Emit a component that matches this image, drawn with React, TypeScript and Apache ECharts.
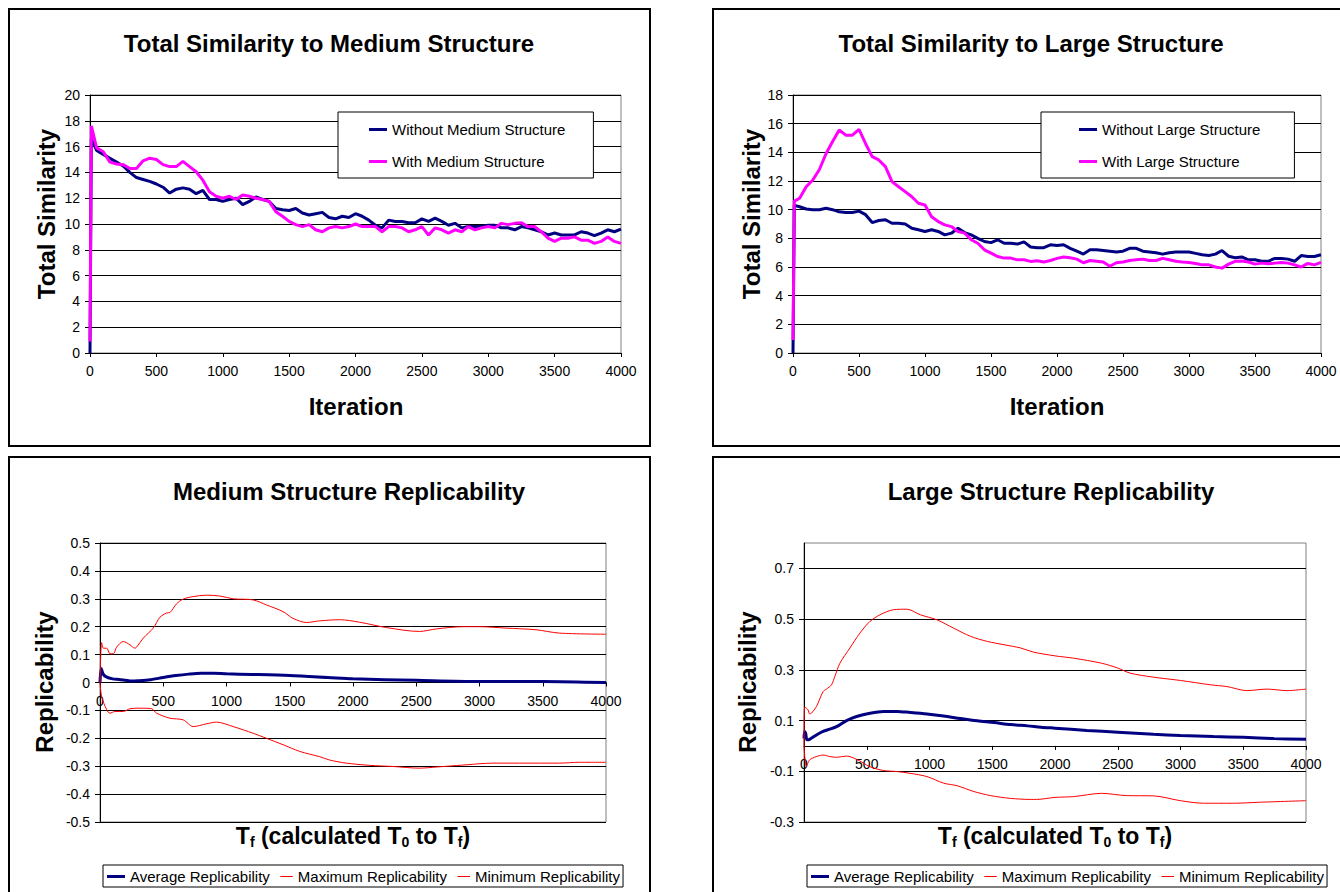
import { useEffect, useRef } from 'react';
import * as echarts from 'echarts';

const FONT = '"Liberation Sans", Arial, Helvetica, sans-serif';

// ---------- Data ----------
const iterTop = [0, 10, 50, 100, 150, 200, 250, 300, 350, 400, 450, 500, 550, 600, 650, 700, 750, 800, 850, 900, 950, 1000, 1050, 1100, 1150, 1200, 1250, 1300, 1350, 1400, 1450, 1500, 1550, 1600, 1650, 1700, 1750, 1800, 1850, 1900, 1950, 2000, 2050, 2100, 2150, 2200, 2250, 2300, 2350, 2400, 2450, 2500, 2550, 2600, 2650, 2700, 2750, 2800, 2850, 2900, 2950, 3000, 3050, 3100, 3150, 3200, 3250, 3300, 3350, 3400, 3450, 3500, 3550, 3600, 3650, 3700, 3750, 3800, 3850, 3900, 3950, 4000];

const withoutMedium = [0, 16.6, 15.7, 15.4, 15.1, 14.8, 14.5, 14.0, 13.6, 13.45, 13.3, 13.1, 12.85, 12.4, 12.7, 12.8, 12.7, 12.35, 12.6, 11.9, 11.9, 11.75, 11.9, 12.0, 11.5, 11.75, 12.1, 11.9, 11.75, 11.2, 11.1, 11.05, 11.2, 10.85, 10.7, 10.8, 10.9, 10.5, 10.4, 10.6, 10.5, 10.8, 10.6, 10.3, 9.9, 9.7, 10.3, 10.2, 10.2, 10.1, 10.1, 10.4, 10.2, 10.45, 10.2, 9.9, 10.05, 9.7, 9.8, 9.8, 9.8, 9.9, 9.9, 9.7, 9.7, 9.55, 9.8, 9.7, 9.55, 9.4, 9.15, 9.3, 9.15, 9.15, 9.15, 9.4, 9.3, 9.1, 9.3, 9.55, 9.4, 9.6];
const withMedium = [0.9, 17.6, 15.9, 15.6, 14.8, 14.65, 14.6, 14.3, 14.3, 14.9, 15.1, 15.0, 14.6, 14.45, 14.45, 14.85, 14.45, 14.05, 13.4, 12.5, 12.15, 12.0, 12.15, 11.9, 12.25, 12.15, 12.0, 11.9, 11.75, 10.95, 10.6, 10.2, 9.95, 9.8, 9.95, 9.55, 9.4, 9.7, 9.8, 9.7, 9.8, 10.0, 9.8, 9.8, 9.8, 9.4, 9.8, 9.8, 9.7, 9.4, 9.55, 9.8, 9.15, 9.7, 9.55, 9.3, 9.55, 9.4, 9.8, 9.55, 9.7, 9.8, 9.7, 10.05, 9.95, 10.05, 10.1, 9.8, 9.8, 9.4, 8.9, 8.65, 8.9, 8.9, 9.0, 8.75, 8.75, 8.5, 8.65, 9.0, 8.65, 8.5];
const withoutLarge = [0, 10.3, 10.2, 10.05, 10.0, 10.0, 10.1, 10.0, 9.85, 9.8, 9.8, 9.9, 9.65, 9.1, 9.24, 9.3, 9.05, 9.05, 9.0, 8.7, 8.6, 8.48, 8.6, 8.48, 8.24, 8.36, 8.7, 8.4, 8.24, 8.0, 7.78, 7.7, 7.9, 7.66, 7.66, 7.6, 7.75, 7.4, 7.35, 7.35, 7.55, 7.5, 7.55, 7.3, 7.1, 6.9, 7.2, 7.2, 7.15, 7.1, 7.05, 7.1, 7.3, 7.3, 7.1, 7.05, 7.0, 6.9, 7.0, 7.05, 7.05, 7.05, 6.95, 6.85, 6.8, 6.9, 7.15, 6.75, 6.65, 6.7, 6.5, 6.5, 6.4, 6.4, 6.6, 6.6, 6.55, 6.4, 6.8, 6.73, 6.73, 6.85];
const withLarge = [0.9, 10.6, 10.8, 11.6, 12.07, 12.8, 13.9, 14.75, 15.56, 15.2, 15.2, 15.6, 14.6, 13.7, 13.47, 13.0, 11.96, 11.6, 11.26, 10.9, 10.45, 10.33, 9.5, 9.17, 8.94, 8.82, 8.48, 8.36, 7.9, 7.66, 7.2, 6.97, 6.73, 6.62, 6.62, 6.5, 6.5, 6.39, 6.43, 6.35, 6.45, 6.6, 6.7, 6.65, 6.55, 6.3, 6.45, 6.4, 6.35, 6.05, 6.3, 6.35, 6.45, 6.5, 6.55, 6.45, 6.45, 6.6, 6.5, 6.4, 6.35, 6.32, 6.25, 6.15, 6.15, 6.0, 5.92, 6.2, 6.4, 6.42, 6.35, 6.2, 6.27, 6.22, 6.27, 6.32, 6.27, 6.15, 6.0, 6.25, 6.15, 6.32];

// [Tf, replicability]
const mediumAvg = [[0, 0], [10, 0.05], [25, 0.03], [50, 0.02], [100, 0.013], [150, 0.011], [200, 0.008], [250, 0.005], [300, 0.006], [400, 0.01], [500, 0.018], [600, 0.025], [700, 0.03], [800, 0.033], [900, 0.033], [1000, 0.031], [1200, 0.029], [1500, 0.025], [1800, 0.018], [2000, 0.013], [2500, 0.008], [3000, 0.004], [3500, 0.004], [4000, 0.0]];
const mediumMax = [[0, 0], [13, 0.143], [26, 0.123], [53, 0.123], [79, 0.103], [105, 0.103], [132, 0.127], [184, 0.147], [237, 0.135], [276, 0.123], [290, 0.127], [342, 0.159], [421, 0.195], [474, 0.234], [526, 0.249], [553, 0.251], [605, 0.282], [658, 0.299], [737, 0.308], [842, 0.313], [947, 0.31], [1053, 0.3], [1211, 0.296], [1316, 0.278], [1447, 0.254], [1526, 0.23], [1632, 0.215], [1737, 0.221], [1895, 0.225], [2053, 0.216], [2263, 0.197], [2526, 0.183], [2658, 0.192], [2868, 0.2], [3000, 0.2], [3211, 0.195], [3447, 0.189], [3632, 0.177], [4000, 0.173]];
const mediumMin = [[0, 0], [13, -0.05], [53, -0.098], [79, -0.11], [118, -0.104], [184, -0.104], [237, -0.094], [316, -0.092], [408, -0.094], [447, -0.11], [553, -0.128], [658, -0.134], [737, -0.158], [842, -0.148], [921, -0.142], [1053, -0.158], [1211, -0.182], [1316, -0.2], [1447, -0.223], [1579, -0.247], [1737, -0.266], [1816, -0.278], [1947, -0.289], [2132, -0.297], [2316, -0.301], [2526, -0.307], [2658, -0.303], [2868, -0.296], [3105, -0.289], [3316, -0.289], [3632, -0.289], [3789, -0.286], [4000, -0.286]];

const largeAvg = [[0, 0.03], [5, 0.057], [13, 0.05], [24, 0.024], [45, 0.026], [99, 0.043], [152, 0.057], [206, 0.066], [259, 0.076], [339, 0.1], [419, 0.116], [526, 0.129], [633, 0.136], [740, 0.136], [846, 0.132], [980, 0.126], [1113, 0.118], [1247, 0.108], [1380, 0.099], [1514, 0.092], [1647, 0.084], [1781, 0.079], [1888, 0.074], [2000, 0.07], [2253, 0.061], [2500, 0.054], [2785, 0.046], [3000, 0.041], [3263, 0.037], [3500, 0.034], [3745, 0.029], [4000, 0.026]];
const largeMax = [[0, 0], [5, 0.153], [19, 0.149], [32, 0.142], [45, 0.126], [59, 0.129], [99, 0.155], [152, 0.214], [179, 0.224], [219, 0.241], [246, 0.274], [286, 0.326], [366, 0.386], [446, 0.445], [526, 0.491], [606, 0.517], [713, 0.537], [820, 0.539], [927, 0.517], [1060, 0.497], [1193, 0.464], [1327, 0.432], [1460, 0.412], [1594, 0.399], [1727, 0.386], [1827, 0.37], [2000, 0.355], [2146, 0.346], [2372, 0.326], [2500, 0.307], [2598, 0.287], [2785, 0.271], [3000, 0.258], [3237, 0.241], [3370, 0.234], [3529, 0.218], [3689, 0.224], [3849, 0.218], [4000, 0.224]];
const largeMin = [[0, 0], [19, -0.081], [45, -0.055], [99, -0.042], [152, -0.036], [206, -0.042], [259, -0.045], [339, -0.04], [419, -0.053], [526, -0.082], [633, -0.097], [740, -0.101], [846, -0.108], [980, -0.121], [1113, -0.147], [1220, -0.157], [1354, -0.18], [1487, -0.196], [1647, -0.207], [1807, -0.211], [1854, -0.211], [2000, -0.203], [2146, -0.2], [2372, -0.187], [2572, -0.196], [2785, -0.197], [3000, -0.216], [3184, -0.226], [3423, -0.226], [3636, -0.222], [4000, -0.216]];

const largeRepTicks = [-0.3, -0.1, 0.1, 0.3, 0.5, 0.7];

const titles = ['Total Similarity to Medium Structure', 'Total Similarity to Large Structure', 'Medium Structure Replicability', 'Large Structure Replicability'];
const topLegendMedium = ['Without Medium Structure', 'With Medium Structure'];
const topLegendLarge = ['Without Large Structure', 'With Large Structure'];
const repLegend = ['Average Replicability', 'Maximum Replicability', 'Minimum Replicability'];

const NAVY = '#000080';
const MAGENTA = '#FF00FF';
const RED = '#FF0000';

// legend icons: tiny corner specks fix the 18x12 box, band is the line sample
const ICON_THICK = 'path://M0,0h0.01v0.01h-0.01zM0,4.5h18v3h-18zM17.99,11.99h0.01v0.01h-0.01z';
const ICON_THIN = 'path://M0,0h0.01v0.01h-0.01zM5.5,5.5h12.5v1h-12.5zM17.99,11.99h0.01v0.01h-0.01z';

const pairs = (xs: number[], ys: number[]) => xs.map((x, i) => [x, ys[i]]);

const GRID_H_TOP = 258;
const GRID_H_BOT = 279;

function xAxisOpt(gridIndex: number, offset = 0) {
  return {
    type: 'value',
    gridIndex,
    min: 0,
    max: 4000,
    interval: 500,
    offset,
    axisLine: { show: true, onZero: false, lineStyle: { color: '#000', width: 1 } },
    axisTick: { show: true, length: 4, lineStyle: { color: '#000' } },
    axisLabel: { fontSize: 14, color: '#000', fontFamily: FONT, margin: 11, formatter: (v: number) => String(v) },
    splitLine: { show: false },
  };
}

function yAxisOpt(gridIndex: number, min: number, max: number, interval: number, extra: any = {}) {
  return {
    type: 'value',
    gridIndex,
    min,
    max,
    interval,
    axisLine: { show: true, onZero: false, lineStyle: { color: '#000', width: 1 } },
    axisTick: { show: true, length: 5, lineStyle: { color: '#000' }, ...(extra.axisTick || {}) },
    axisLabel: { fontSize: 14, color: '#000', fontFamily: FONT, margin: 10, ...(extra.axisLabel || {}) },
    splitLine: { show: true, lineStyle: { color: '#000', width: 1 } },
  };
}

// offset that puts the x axis on the y = 0 line of a grid
const zeroOffset = (min: number, max: number, h: number) => -h * (0 - min) / (max - min);

function lineSeries(name: string, data: any[], idx: number, color: string, width: number, smooth: any = false) {
  return {
    type: 'line',
    name,
    data,
    xAxisIndex: idx,
    yAxisIndex: idx,
    symbol: 'none',
    showSymbol: false,
    smooth,
    color,
    itemStyle: { color },
    lineStyle: { color, width },
  };
}

function boldText(x: number, y: number, text: string, size: number, rotation = 0) {
  return {
    type: 'text',
    x,
    y,
    rotation,
    silent: true,
    style: {
      text,
      fill: '#000',
      font: `bold ${size}px ${FONT}`,
      align: 'center',
      verticalAlign: 'middle',
      textAlign: 'center',
      textVerticalAlign: 'middle',
    },
  };
}

function tfText(x: number, y: number) {
  return {
    type: 'text',
    x,
    y,
    silent: true,
    style: {
      text: '{b|T}{s|f}{b| (calculated T}{s|0}{b| to T}{s|f}{b|)}',
      fill: '#000',
      font: `bold 23px ${FONT}`,
      align: 'center',
      verticalAlign: 'middle',
      textAlign: 'center',
      textVerticalAlign: 'middle',
      rich: {
        b: { font: `bold 23px ${FONT}`, fill: '#000' },
        s: { font: `bold 14px ${FONT}`, fill: '#000', padding: [12, 0, 0, 0] },
      },
    },
  };
}

function panelRect(x: number, y: number, w: number, h: number) {
  return {
    type: 'rect',
    silent: true,
    shape: { x, y, width: w, height: h },
    style: { fill: 'none', stroke: '#000', lineWidth: 2 },
  };
}

const legendBase = {
  selectedMode: false,
  borderColor: '#000',
  borderWidth: 1,
  backgroundColor: '#fff',
  itemStyle: { borderWidth: 0 },
  textStyle: { color: '#000', fontFamily: FONT, fontSize: 15 },
};

const repLegendData = [
  { name: repLegend[0], icon: ICON_THICK },
  { name: repLegend[1], icon: ICON_THIN },
  { name: repLegend[2], icon: ICON_THIN },
];

export default function App() {
  const ref = useRef<HTMLDivElement>(null);

  useEffect(() => {
    if (!ref.current) return;
    const chart = echarts.init(ref.current, undefined, { renderer: 'svg' });

    const option: any = {
      animation: false,
      backgroundColor: '#fff',
      grid: [
        { left: 90, top: 95, width: 531, height: GRID_H_TOP, show: true, borderColor: '#808080', borderWidth: 1 },
        { left: 793, top: 95, width: 528, height: GRID_H_TOP, show: true, borderColor: '#808080', borderWidth: 1 },
        { left: 100, top: 543, width: 506, height: GRID_H_BOT, show: true, borderColor: '#808080', borderWidth: 1 },
        { left: 804, top: 543, width: 502, height: GRID_H_BOT, show: true, borderColor: '#808080', borderWidth: 1 },
      ],
      xAxis: [
        xAxisOpt(0),
        xAxisOpt(1),
        xAxisOpt(2, zeroOffset(-0.5, 0.5, GRID_H_BOT)),
        xAxisOpt(3, zeroOffset(-0.3, 0.8, GRID_H_BOT)),
      ],
      yAxis: [
        yAxisOpt(0, 0, 20, 2),
        yAxisOpt(1, 0, 18, 2),
        yAxisOpt(2, -0.5, 0.5, 0.1),
        yAxisOpt(3, -0.3, 0.8, 0.1, {
          axisTick: { customValues: largeRepTicks },
          axisLabel: { customValues: largeRepTicks },
        }),
      ],
      legend: [
        {
          ...legendBase,
          orient: 'vertical',
          left: 338,
          top: 112,
          padding: [10, 28, 9, 31],
          itemGap: 17,
          itemWidth: 18,
          itemHeight: 3,
          icon: 'rect',
          data: topLegendMedium,
        },
        {
          ...legendBase,
          orient: 'vertical',
          left: 1041,
          top: 112,
          padding: [10, 34, 9, 38],
          itemGap: 17,
          itemWidth: 18,
          itemHeight: 3,
          icon: 'rect',
          data: topLegendLarge,
        },
        {
          ...legendBase,
          orient: 'horizontal',
          left: 103,
          top: 865,
          padding: [4, 3, 3, 4],
          itemGap: 5,
          itemWidth: 18,
          itemHeight: 12,
          data: repLegendData,
        },
        {
          ...legendBase,
          orient: 'horizontal',
          left: 807,
          top: 865,
          padding: [4, 3, 3, 4],
          itemGap: 5,
          itemWidth: 18,
          itemHeight: 12,
          data: repLegendData,
        },
      ],
      series: [
        lineSeries(topLegendMedium[0], pairs(iterTop, withoutMedium), 0, NAVY, 3),
        lineSeries(topLegendMedium[1], pairs(iterTop, withMedium), 0, MAGENTA, 3),
        lineSeries(topLegendLarge[0], pairs(iterTop, withoutLarge), 1, NAVY, 3),
        lineSeries(topLegendLarge[1], pairs(iterTop, withLarge), 1, MAGENTA, 3),
        lineSeries(repLegend[0], mediumAvg, 2, NAVY, 3, 0.3),
        lineSeries(repLegend[1], mediumMax, 2, RED, 1, 0.3),
        lineSeries(repLegend[2], mediumMin, 2, RED, 1, 0.3),
        lineSeries(repLegend[0], largeAvg, 3, NAVY, 3, 0.3),
        lineSeries(repLegend[1], largeMax, 3, RED, 1, 0.3),
        lineSeries(repLegend[2], largeMin, 3, RED, 1, 0.3),
      ],
      graphic: [
        panelRect(9, 9, 641, 437),
        panelRect(713, 9, 660, 437),
        panelRect(9, 457, 641, 460),
        panelRect(713, 457, 660, 460),
        boldText(329, 43, titles[0], 24),
        boldText(1031, 43, titles[1], 24),
        boldText(349, 491, titles[2], 24),
        boldText(1051, 491, titles[3], 24),
        boldText(46, 214, 'Total Similarity', 24, Math.PI / 2),
        boldText(751, 214, 'Total Similarity', 24, Math.PI / 2),
        boldText(44, 682, 'Replicability', 24, Math.PI / 2),
        boldText(747, 682, 'Replicability', 24, Math.PI / 2),
        boldText(356, 406, 'Iteration', 24),
        boldText(1057, 406, 'Iteration', 24),
        tfText(353, 836),
        tfText(1055, 836),
      ],
    };

    chart.setOption(option);
    return () => chart.dispose();
  }, []);

  return (
    <div
      ref={ref}
      style={{ position: 'absolute', left: 0, top: 0, width: 1340, height: 892, background: '#fff' }}
    />
  );
}
